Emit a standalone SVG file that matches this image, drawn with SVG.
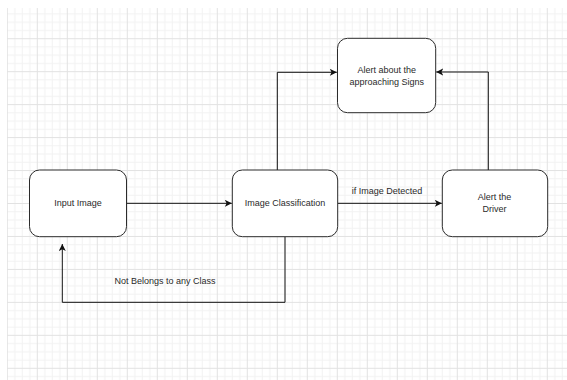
<svg xmlns="http://www.w3.org/2000/svg" width="567" height="380" viewBox="0 0 567 380">
  <style>
    .node rect { fill: #ffffff; stroke: #2b2b2b; stroke-width: 1; }
    .node text, .label { font-family: "Liberation Sans", Arial, sans-serif; font-size: 9px; fill: #2a2a2a; text-anchor: middle; dominant-baseline: central; }
    .edge { fill: none; stroke: #111111; stroke-width: 1; marker-end: url(#arrow); }
    .minor { stroke: #f2f2f2; stroke-width: 1; fill: none; }
    .major { stroke: #e2e2e2; stroke-width: 1; fill: none; }
  </style>
  <defs>
    <pattern id="grid" patternUnits="userSpaceOnUse" x="6.8" y="5.24" width="30" height="32.96">
      <path class="minor" d="M8 0V32.96 M15.5 0V32.96 M23 0V32.96 M0 8.74H30 M0 16.98H30 M0 25.22H30"/>
      <path class="major" d="M0.5 0V32.96 M0 0.5H30"/>
    </pattern>
    <marker id="arrow" markerUnits="userSpaceOnUse" markerWidth="8" markerHeight="8" refX="7" refY="3.5" orient="auto">
      <path d="M0 0 L7 3.5 L0 7 L1.8 3.5 Z" fill="#111111"/>
    </marker>
  </defs>

  <rect x="0" y="0" width="567" height="380" fill="#ffffff"/>
  <rect x="7" y="8" width="560" height="372" fill="url(#grid)"/>

  <g id="connectors">
    <path class="edge" d="M126.5 203.3 H231.8"/>
    <path class="edge" d="M337.7 203.3 H441.8"/>
    <path class="edge" d="M277.3 170 V72.3 H336.8"/>
    <path class="edge" d="M488.3 170 V72 H436.2"/>
    <path class="edge" d="M285 236.7 V302.3 H62.3 V244"/>
    <text class="label" x="387" y="190.7">if Image Detected</text>
    <text class="label" x="165" y="281">Not Belongs to any Class</text>
  </g>

  <g id="input-image" class="node">
    <rect x="29.5" y="170" width="97" height="66.7" rx="10" ry="10"/>
    <text x="78" y="203.3">Input Image</text>
  </g>
  <g id="image-classification" class="node">
    <rect x="232.3" y="170" width="105.4" height="66.7" rx="10" ry="10"/>
    <text x="285" y="203.3">Image Classification</text>
  </g>
  <g id="alert-driver" class="node">
    <rect x="442.3" y="170" width="105.4" height="66.7" rx="10" ry="10"/>
    <text x="494.5" y="197.3">Alert the</text>
    <text x="494.5" y="209">Driver</text>
  </g>
  <g id="alert-signs" class="node">
    <rect x="337.5" y="38.3" width="98.2" height="74.4" rx="10" ry="10"/>
    <text x="386.7" y="70">Alert about the</text>
    <text x="386.7" y="81.7">approaching Signs</text>
  </g>
</svg>
